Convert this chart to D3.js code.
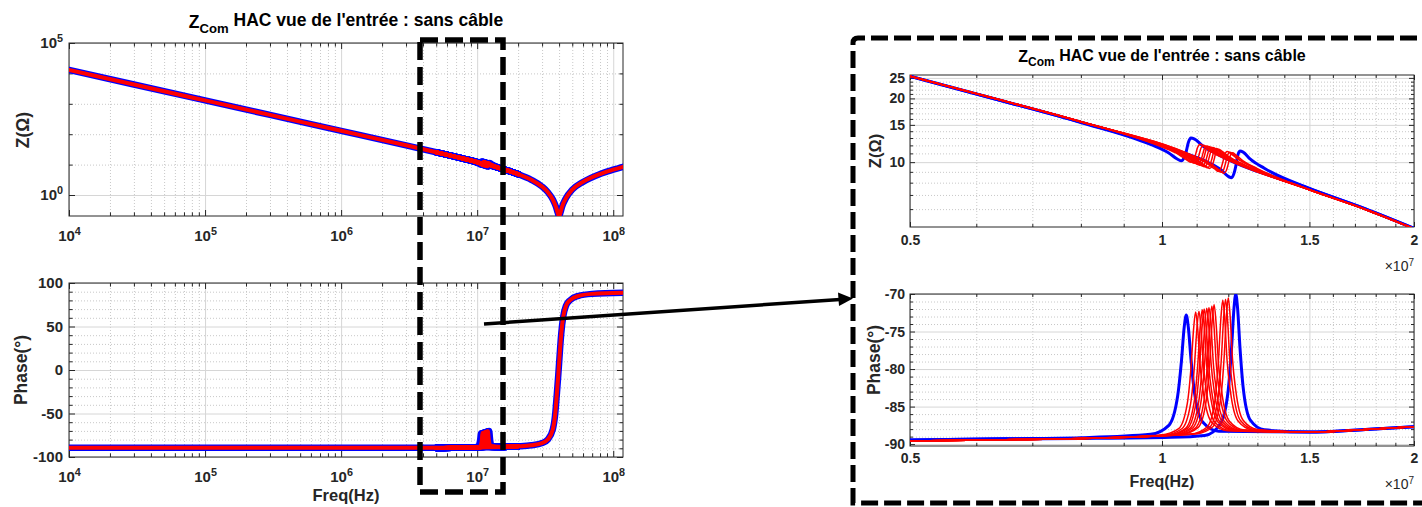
<!DOCTYPE html>
<meta charset="utf-8">
<style>
body { margin: 0; background: #fff; }
svg { font-family: "Liberation Sans", Arial, sans-serif; font-weight: bold; }
.gminor line { stroke: #c8c8c8; stroke-dasharray: 1 2; }
.gmajor line { stroke: #d6d6d6; }
.gminor path, .gmajor path, .tk path { display: none; }
.tk line { stroke: #262626; }
.tk text { fill: #262626; font-weight: bold; }
</style>
<body>
<script src="https://d3js.org/d3.v7.min.js"></script>
<script>
// ---- full sweep (left panels), Hz / ohm / degree
var sweepFreq = [1e4, 3e4, 1e5, 3e5, 1e6, 3e6, 5e6, 7e6, 1e7, 1.5e7, 2e7, 2.5e7, 3e7, 3.3e7, 3.6e7, 3.8e7, 3.9e7, 4.0e7, 4.1e7, 4.2e7, 4.5e7, 5e7, 6e7, 8e7, 1e8, 1.18e8];
var sweepZ = [12900, 4310, 1294, 431, 129.4, 43.1, 25.47, 17.92, 12.13, 7.41, 4.85, 3.16, 1.89, 1.25, 0.71, 0.40, 0.27, 0.20, 0.27, 0.40, 0.80, 1.50, 2.70, 4.90, 6.80, 8.45];
var sweepPhaseFreq = [1e4, 1e5, 1e6, 5e6, 1e7, 1.5e7, 2e7, 2.5e7, 3e7, 3.3e7, 3.6e7, 3.75e7, 3.85e7, 3.95e7, 4.05e7, 4.15e7, 4.3e7, 4.5e7, 4.8e7, 5.5e7, 7e7, 1.18e8];
var sweepPhase = [-89.3, -89.4, -89.4, -89.5, -89.0, -88.4, -87.7, -86.5, -84, -80, -68, -50, -28, -5, 20, 42, 62, 74, 80, 85, 87.5, 88.7];

// ---- zoom 0.5..2 x1e7 Hz : two blue runs, eleven red runs
var blueFreq = [
  [0.5, 0.65, 0.8, 0.969, 1.019, 1.044, 1.055, 1.063, 1.069, 1.075, 1.083, 1.094, 1.119, 1.169, 1.5, 1.75, 2.0],
  [0.5, 0.65, 0.8, 1.025, 1.125, 1.175, 1.2, 1.211, 1.219, 1.225, 1.231, 1.239, 1.25, 1.275, 1.325, 1.5, 1.75, 2.0]
];
var blueZ = [
  [25.45, 19.3, 15.4, 12.12, 11.05, 10.32, 10.15, 10.53, 11.24, 12.37, 13.0, 12.84, 11.93, 10.82, 7.5, 6.02, 4.87],
  [25.45, 19.3, 15.45, 11.55, 10.13, 9.23, 8.57, 8.45, 8.85, 9.57, 10.66, 11.28, 11.15, 10.34, 9.36, 7.51, 6.02, 4.87]
];
var bluePhase = [
  [-89.45, -89.3, -89.15, -88.7, -87.5, -83.6, -78.9, -74.42, -72.8, -74.4, -78.7, -83.3, -87.1, -88.3, -88.4, -88.05, -87.7],
  [-89.45, -89.3, -89.25, -89.1, -88.85, -87.25, -82.72, -77.11, -71.87, -70.0, -71.86, -77.0, -82.4, -86.8, -88.1, -88.4, -88.05, -87.7]
];

var redFreq = [
  [0.5, 0.65, 0.8, 0.997, 1.047, 1.072, 1.083, 1.091, 1.097, 1.103, 1.111, 1.122, 1.147, 1.197, 1.5, 1.75, 2.0],
  [0.5, 0.65, 0.8, 1.007, 1.057, 1.082, 1.093, 1.101, 1.107, 1.113, 1.121, 1.132, 1.157, 1.207, 1.5, 1.75, 2.0],
  [0.5, 0.65, 0.8, 1.017, 1.067, 1.092, 1.103, 1.111, 1.117, 1.123, 1.131, 1.142, 1.167, 1.217, 1.5, 1.75, 2.0],
  [0.5, 0.65, 0.8, 1.023, 1.073, 1.098, 1.109, 1.117, 1.123, 1.129, 1.137, 1.148, 1.173, 1.223, 1.5, 1.75, 2.0],
  [0.5, 0.65, 0.8, 1.031, 1.081, 1.106, 1.117, 1.125, 1.131, 1.137, 1.145, 1.156, 1.181, 1.231, 1.5, 1.75, 2.0],
  [0.5, 0.65, 0.8, 1.038, 1.088, 1.113, 1.124, 1.132, 1.138, 1.144, 1.152, 1.163, 1.188, 1.238, 1.5, 1.75, 2.0],
  [0.5, 0.65, 0.8, 1.047, 1.097, 1.122, 1.133, 1.141, 1.147, 1.153, 1.161, 1.172, 1.197, 1.247, 1.5, 1.75, 2.0],
  [0.5, 0.65, 0.8, 1.054, 1.104, 1.129, 1.140, 1.148, 1.154, 1.160, 1.168, 1.179, 1.204, 1.254, 1.5, 1.75, 2.0],
  [0.5, 0.65, 0.8, 1.082, 1.132, 1.157, 1.168, 1.176, 1.182, 1.188, 1.196, 1.207, 1.232, 1.282, 1.5, 1.75, 2.0],
  [0.5, 0.65, 0.8, 1.091, 1.141, 1.166, 1.177, 1.185, 1.191, 1.197, 1.205, 1.216, 1.241, 1.291, 1.5, 1.75, 2.0],
  [0.5, 0.65, 0.8, 1.100, 1.150, 1.175, 1.186, 1.194, 1.200, 1.206, 1.214, 1.225, 1.250, 1.300, 1.5, 1.75, 2.0]
];
var redZ = [
  [25.47, 19.38, 15.53, 11.84, 10.87, 10.21, 9.98, 10.26, 10.91, 11.75, 12.14, 11.89, 11.16, 10.26, 7.41, 5.98, 4.85],
  [25.47, 19.38, 15.53, 11.71, 10.75, 10.09, 9.87, 10.14, 10.79, 11.64, 12.03, 11.78, 11.06, 10.17, 7.41, 5.98, 4.85],
  [25.47, 19.38, 15.53, 11.57, 10.63, 9.98, 9.75, 10.03, 10.68, 11.52, 11.92, 11.67, 10.95, 10.07, 7.41, 5.98, 4.85],
  [25.47, 19.38, 15.53, 11.49, 10.55, 9.91, 9.68, 9.96, 10.61, 11.46, 11.85, 11.60, 10.89, 10.01, 7.41, 5.98, 4.85],
  [25.47, 19.38, 15.53, 11.39, 10.46, 9.82, 9.59, 9.87, 10.53, 11.37, 11.77, 11.52, 10.81, 9.94, 7.41, 5.98, 4.85],
  [25.47, 19.38, 15.53, 11.30, 10.37, 9.74, 9.51, 9.80, 10.45, 11.30, 11.69, 11.45, 10.74, 9.87, 7.41, 5.98, 4.85],
  [25.47, 19.38, 15.53, 11.18, 10.27, 9.64, 9.41, 9.70, 10.35, 11.20, 11.60, 11.35, 10.65, 9.79, 7.41, 5.98, 4.85],
  [25.47, 19.38, 15.53, 11.09, 10.19, 9.56, 9.34, 9.62, 10.28, 11.13, 11.52, 11.28, 10.58, 9.73, 7.41, 5.98, 4.85],
  [25.47, 19.38, 15.53, 10.75, 9.88, 9.26, 9.04, 9.33, 9.99, 10.84, 11.24, 11.01, 10.32, 9.48, 7.41, 5.98, 4.85],
  [25.47, 19.38, 15.53, 10.65, 9.78, 9.17, 8.95, 9.24, 9.90, 10.75, 11.15, 10.92, 10.23, 9.40, 7.41, 5.98, 4.85],
  [25.47, 19.38, 15.53, 10.54, 9.68, 9.07, 8.86, 9.15, 9.81, 10.66, 11.07, 10.83, 10.15, 9.32, 7.41, 5.98, 4.85]
];
var redPhase = [
  [-89.6, -89.42, -89.25, -88.80, -87.94, -84.61, -79.83, -74.54, -72.4, -74.53, -79.78, -83.55, -87.13, -88.21, -88.4, -88.05, -87.7],
  [-89.6, -89.42, -89.25, -88.79, -87.92, -84.58, -79.76, -74.46, -72.3, -74.44, -79.72, -83.51, -87.11, -88.19, -88.4, -88.05, -87.7],
  [-89.6, -89.42, -89.25, -88.77, -87.90, -84.51, -79.65, -74.28, -72.1, -74.27, -79.60, -83.44, -87.08, -88.18, -88.4, -88.05, -87.7],
  [-89.6, -89.42, -89.25, -88.77, -87.88, -84.48, -79.59, -74.20, -72.0, -74.18, -79.54, -83.40, -87.06, -88.18, -88.4, -88.05, -87.7],
  [-89.6, -89.42, -89.25, -88.75, -87.87, -84.45, -79.53, -74.11, -71.9, -74.09, -79.48, -83.36, -87.04, -88.16, -88.4, -88.05, -87.7],
  [-89.6, -89.42, -89.25, -88.74, -87.85, -84.41, -79.47, -74.02, -71.8, -74.00, -79.43, -83.32, -87.02, -88.15, -88.4, -88.05, -87.7],
  [-89.6, -89.42, -89.25, -88.72, -87.83, -84.35, -79.35, -73.84, -71.6, -73.82, -79.31, -83.24, -86.98, -88.13, -88.4, -88.05, -87.7],
  [-89.6, -89.42, -89.25, -88.71, -87.80, -84.29, -79.24, -73.67, -71.4, -73.65, -79.20, -83.17, -86.96, -88.13, -88.4, -88.05, -87.7],
  [-89.6, -89.42, -89.25, -88.66, -87.72, -84.10, -78.89, -73.14, -70.8, -73.12, -78.85, -82.95, -86.88, -88.08, -88.4, -88.05, -87.7],
  [-89.6, -89.42, -89.25, -88.64, -87.71, -84.07, -78.82, -73.05, -70.7, -73.03, -78.79, -82.92, -86.86, -88.07, -88.4, -88.05, -87.7],
  [-89.6, -89.42, -89.25, -88.63, -87.69, -84.01, -78.71, -72.88, -70.5, -72.86, -78.68, -82.85, -86.83, -88.05, -88.4, -88.05, -87.7]
];

// ---- ticks
var leftFreqTicks = [1e4, 1e5, 1e6, 1e7, 1e8];
var leftZTicks = [1, 1e5];
var leftZMinor = [10, 100, 1000, 10000];
var leftPhaseTicks = [-100, -50, 0, 50, 100];
var rightFreqTicks = [0.5, 1, 1.5, 2];
var rightZTicks = [10, 15, 20, 25];
var rightPhaseTicks = [-90, -85, -80, -75, -70];

var titleText = " HAC vue de l'entrée : sans câble";

var leftFreqMinor = [];
[1e4, 1e5, 1e6, 1e7].forEach(function(dec) {
  d3.range(2, 10).forEach(function(k) { leftFreqMinor.push(k * dec); });
});
var rightFreqMinor = [0.6, 0.7, 0.8, 0.9, 1.1, 1.2, 1.3, 1.4, 1.6, 1.7, 1.8, 1.9];
var rightZMinor = [6, 7, 8, 9, 11, 12, 13, 14, 16, 17, 18, 19, 21, 22, 23, 24];
var leftPhaseMinor = d3.range(-90, 100, 10).filter(function(v) { return v % 50 !== 0; });
var rightPhaseMinor = d3.range(-89, -70, 1).filter(function(v) { return v % 5 !== 0; });

var svg = d3.select("body").append("svg").attr("width", 1422).attr("height", 507);
svg.append("rect").attr("width", 1422).attr("height", 507).attr("fill", "#fff");
var defs = svg.append("defs");
var clipN = 0;

function supFormat(sel, fs) {
  sel.selectAll(".tick text").each(function(d) {
    var e = Math.round(Math.log10(d));
    var t = d3.select(this).text(null);
    t.append("tspan").text("10");
    t.append("tspan").attr("dy", "-0.55em").style("font-size", (fs * 0.72) + "px").text(e);
  });
}

function panel(box, x, y, o) {
  var w = box.x1 - box.x0, h = box.y1 - box.y0;
  x.range([0, w]); y.range([h, 0]);
  var g = svg.append("g").attr("transform", "translate(" + box.x0 + "," + box.y0 + ")");

  g.append("g").attr("class", "gminor").attr("transform", "translate(0," + h + ")")
    .call(d3.axisBottom(x).tickValues(o.xMinor).tickSize(-h).tickFormat(""));
  g.append("g").attr("class", "gminor")
    .call(d3.axisLeft(y).tickValues(o.yMinor).tickSize(-w).tickFormat(""));
  g.append("g").attr("class", "gmajor").attr("transform", "translate(0," + h + ")")
    .call(d3.axisBottom(x).tickValues(o.xTicks).tickSize(-h).tickFormat(""));
  g.append("g").attr("class", "gmajor")
    .call(d3.axisLeft(y).tickValues(o.yTicks).tickSize(-w).tickFormat(""));

  var fs = o.fs;
  var bx = g.append("g").attr("class", "tk").attr("transform", "translate(0," + h + ")")
    .call(d3.axisBottom(x).tickValues(o.xTicks).tickSize(-o.tl).tickPadding(o.xPad).tickFormat(o.xFmt || String));
  bx.selectAll("text").style("font-size", fs + "px");
  if (o.xSup) supFormat(bx, fs);
  g.append("g").attr("class", "tk").attr("transform", "translate(0," + h + ")")
    .call(d3.axisBottom(x).tickValues(o.xMinor).tickSize(-o.tl * 0.6).tickFormat(""));
  g.append("g").attr("class", "tk")
    .call(d3.axisTop(x).tickValues(o.xTicks).tickSize(-o.tl).tickFormat(""));
  g.append("g").attr("class", "tk")
    .call(d3.axisTop(x).tickValues(o.xMinor).tickSize(-o.tl * 0.6).tickFormat(""));

  var ly = g.append("g").attr("class", "tk")
    .call(d3.axisLeft(y).tickValues(o.yTicks).tickSize(-o.tl).tickPadding(o.yPad).tickFormat(o.yFmt || String));
  ly.selectAll("text").style("font-size", fs + "px");
  if (o.ySup) supFormat(ly, fs);
  g.append("g").attr("class", "tk")
    .call(d3.axisLeft(y).tickValues(o.yMinor).tickSize(-o.tl * 0.6).tickFormat(""));
  g.append("g").attr("class", "tk").attr("transform", "translate(" + w + ",0)")
    .call(d3.axisRight(y).tickValues(o.yTicks).tickSize(-o.tl).tickFormat(""));
  g.append("g").attr("class", "tk").attr("transform", "translate(" + w + ",0)")
    .call(d3.axisRight(y).tickValues(o.yMinor).tickSize(-o.tl * 0.6).tickFormat(""));

  g.append("rect").attr("width", w).attr("height", h)
    .attr("fill", "none").attr("stroke", "#262626").attr("stroke-width", 1);

  var id = "clip" + (clipN++);
  defs.append("clipPath").attr("id", id).append("rect").attr("width", w).attr("height", h);
  var plot = g.append("g").attr("clip-path", "url(#" + id + ")");
  return { g: g, plot: plot, w: w, h: h };
}

function drawLines(p, x, y, sets, color, width) {
  var line = d3.line().x(function(d) { return x(d[0]); }).y(function(d) { return y(d[1]); })
    .curve(d3.curveMonotoneX);
  sets.forEach(function(s) {
    p.plot.append("path").datum(d3.zip(s[0], s[1]))
      .attr("d", line).attr("fill", "none").attr("stroke", color)
      .attr("stroke-width", width).attr("stroke-linejoin", "round").attr("stroke-linecap", "round");
  });
}

function title(xc, yb, fs) {
  var t = svg.append("text").attr("x", xc).attr("y", yb).attr("text-anchor", "middle")
    .style("font-size", fs + "px").attr("fill", "#000");
  t.append("tspan").text("Z");
  t.append("tspan").attr("dy", "0.35em").style("font-size", (fs * 0.75) + "px").text("Com");
  t.append("tspan").attr("dy", "-0.35em").text(titleText);
}

function ylabel(xc, yc, txt, fs) {
  svg.append("text").attr("transform", "translate(" + xc + "," + yc + ") rotate(-90)")
    .attr("text-anchor", "middle").style("font-size", fs + "px").attr("fill", "#262626").text(txt);
}

function e7(arr) { return arr.map(function(f) { return f * 1e7; }); }

// ---------- LEFT ----------
var xL = d3.scaleLog().domain([1e4, 1.18e8]);
var xL2 = d3.scaleLog().domain([1e4, 1.18e8]);
var yZL = d3.scaleLog().domain([0.204, 1e5]);
var yPL = d3.scaleLinear().domain([-100, 100]);

var pZL = panel({ x0: 69, x1: 623, y0: 43, y1: 216 }, xL, yZL, {
  xTicks: leftFreqTicks, xMinor: leftFreqMinor, yTicks: leftZTicks, yMinor: leftZMinor,
  xSup: true, ySup: true, fs: 15, tl: 6, xPad: 14, yPad: 6
});
var pPL = panel({ x0: 69, x1: 623, y0: 283, y1: 457 }, xL2, yPL, {
  xTicks: leftFreqTicks, xMinor: leftFreqMinor, yTicks: leftPhaseTicks, yMinor: leftPhaseMinor,
  xSup: true, fs: 15, tl: 6, xPad: 14, yPad: 6
});

var zAll = [[sweepFreq, sweepZ]], pAll = [[sweepPhaseFreq, sweepPhase]];
var zRed = [[sweepFreq, sweepZ]], pRed = [[sweepPhaseFreq, sweepPhase]];
blueFreq.forEach(function(f, i) { zAll.push([e7(f), blueZ[i]]); pAll.push([e7(f), bluePhase[i]]); });
redFreq.forEach(function(f, i) {
  zAll.push([e7(f), redZ[i]]); pAll.push([e7(f), redPhase[i]]);
  zRed.push([e7(f), redZ[i]]); pRed.push([e7(f), redPhase[i]]);
});
drawLines(pZL, xL, yZL, zAll, "#0000ff", 6.5);
drawLines(pZL, xL, yZL, zRed, "#ff0000", 4);
drawLines(pPL, xL2, yPL, pAll, "#0000ff", 6.5);
drawLines(pPL, xL2, yPL, pRed, "#ff0000", 4);

title(346, 28, 17.5);
ylabel(29, 130, "Z(Ω)", 17.5);
ylabel(27, 370, "Phase(°)", 17.5);
svg.append("text").attr("x", 346).attr("y", 501).attr("text-anchor", "middle")
  .style("font-size", "16.5px").attr("fill", "#262626").text("Freq(Hz)");

// ---------- RIGHT ----------
var xR = d3.scaleLog().domain([0.5, 2]);
var xR2 = d3.scaleLog().domain([0.5, 2]);
var yZR = d3.scaleLog().domain([4.94, 25.8]);
var yPR = d3.scaleLinear().domain([-90.25, -70]);

var pZR = panel({ x0: 910, x1: 1414, y0: 75, y1: 227 }, xR, yZR, {
  xTicks: rightFreqTicks, xMinor: rightFreqMinor, yTicks: rightZTicks, yMinor: rightZMinor,
  fs: 14, tl: 5, xPad: 8, yPad: 5
});
var pPR = panel({ x0: 910, x1: 1414, y0: 294, y1: 446 }, xR2, yPR, {
  xTicks: rightFreqTicks, xMinor: rightFreqMinor, yTicks: rightPhaseTicks, yMinor: rightPhaseMinor,
  fs: 14, tl: 5, xPad: 7, yPad: 5
});

drawLines(pZR, xR, yZR, blueFreq.map(function(f, i) { return [f, blueZ[i]]; }), "#0000ff", 3);
drawLines(pZR, xR, yZR, redFreq.map(function(f, i) { return [f, redZ[i]]; }), "#ff0000", 1.5);
drawLines(pPR, xR2, yPR, bluePhase.map(function(p, i) { return [blueFreq[i], p]; }), "#0000ff", 3);
drawLines(pPR, xR2, yPR, redPhase.map(function(p, i) { return [redFreq[i], p]; }), "#ff0000", 1.5);

title(1162, 62, 16);
ylabel(881, 151, "Z(Ω)", 16.5);
ylabel(880, 360, "Phase(°)", 17.5);
svg.append("text").attr("x", 1162).attr("y", 487).attr("text-anchor", "middle")
  .style("font-size", "16px").attr("fill", "#262626").text("Freq(Hz)");

[271, 489].forEach(function(yb) {
  var t = svg.append("text").attr("x", 1414).attr("y", yb).attr("text-anchor", "end")
    .style("font-size", "14px").style("font-weight", "normal").attr("fill", "#262626");
  t.append("tspan").text("×10");
  t.append("tspan").attr("dy", "-0.55em").style("font-size", "10px").text("7");
});

// ---------- annotations ----------
svg.append("rect").attr("x", 420).attr("y", 40).attr("width", 83).attr("height", 452)
  .attr("fill", "none").attr("stroke", "#000").attr("stroke-width", 5.5)
  .attr("stroke-dasharray", "18 7");
svg.append("path").attr("d", "M1440,38 H858 Q853,38 853,43 V503 H1440")
  .attr("fill", "none").attr("stroke", "#000").attr("stroke-width", 5)
  .attr("stroke-dasharray", "17 6");
svg.append("line").attr("x1", 484).attr("y1", 324).attr("x2", 840).attr("y2", 299.5)
  .attr("stroke", "#000").attr("stroke-width", 3.5);
svg.append("path").attr("d", "M853,298.6 L838,292.5 L839,306 Z").attr("fill", "#000");
</script>
</body>
